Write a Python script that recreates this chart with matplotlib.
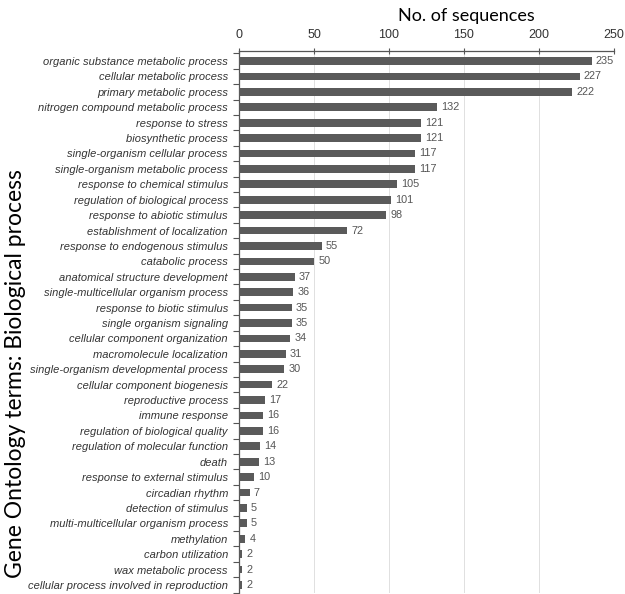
import matplotlib
matplotlib.use("Agg")
import matplotlib.pyplot as plt
import numpy as np

terms = [
    "organic substance metabolic process",
    "cellular metabolic process",
    "primary metabolic process",
    "nitrogen compound metabolic process",
    "response to stress",
    "biosynthetic process",
    "single-organism cellular process",
    "single-organism metabolic process",
    "response to chemical stimulus",
    "regulation of biological process",
    "response to abiotic stimulus",
    "establishment of localization",
    "response to endogenous stimulus",
    "catabolic process",
    "anatomical structure development",
    "single-multicellular organism process",
    "response to biotic stimulus",
    "single organism signaling",
    "cellular component organization",
    "macromolecule localization",
    "single-organism developmental process",
    "cellular component biogenesis",
    "reproductive process",
    "immune response",
    "regulation of biological quality",
    "regulation of molecular function",
    "death",
    "response to external stimulus",
    "circadian rhythm",
    "detection of stimulus",
    "multi-multicellular organism process",
    "methylation",
    "carbon utilization",
    "wax metabolic process",
    "cellular process involved in reproduction",
]
counts = [235, 227, 222, 132, 121, 121, 117, 117, 105, 101, 98, 72, 55, 50,
          37, 36, 35, 35, 34, 31, 30, 22, 17, 16, 16, 14, 13, 10, 7, 5, 5, 4,
          2, 2, 2]
xticks = [0, 50, 100, 150, 200, 250]

W, H = 625, 594
fig = plt.figure(figsize=(W / 100, H / 100), dpi=100)
ax = fig.add_axes([239 / W, 1 - 593 / H, (614 - 239) / W, (593 - 51) / H])

pos = np.arange(len(terms))
ax.barh(pos, counts, height=0.5, color="#5a5a5a", zorder=3)
for p, c in zip(pos, counts):
    ax.text(c + 3, p, str(c), va="center", ha="left", fontsize=7.8,
            color="#555555", family="Liberation Sans")

ax.set_xlim(0, 250)
ax.set_ylim(len(terms) - 1 + 0.52, -0.65)
ax.xaxis.tick_top()
ax.set_xticks(xticks)
ax.set_xticklabels([str(t) for t in xticks], family="Liberation Sans",
                   fontsize=9, color="#333333")
ax.tick_params(axis="x", direction="inout", length=5, width=0.8,
               color="#555555", pad=5)
ax.grid(axis="x", color="#e0e0e0", linewidth=0.7, zorder=0)

# category labels sit on plain text, ticks mark the gaps between bars
ax.set_yticks(pos)
ax.set_yticklabels(terms, family="Liberation Sans", style="italic",
                   fontsize=8.0, color="#333333")
ax.set_yticks(np.arange(len(terms) + 1) - 0.5, minor=True)
ax.tick_params(axis="y", which="major", length=0, pad=8)
ax.tick_params(axis="y", which="minor", length=4, width=0.8,
               color="#555555", direction="out")

for side in ("right", "bottom"):
    ax.spines[side].set_visible(False)
for side in ("top", "left"):
    ax.spines[side].set_color("#555555")
    ax.spines[side].set_linewidth(0.9)

fig.text(466 / W, 1 - 16 / H, "No. of sequences", ha="center", va="center",
         fontsize=13, family="Lato", color="black")
fig.text(16 / W, 1 - 374 / H, "Gene Ontology terms: Biological process",
         ha="center", va="center", rotation=90, fontsize=16.5,
         family="Lato", color="black")

fig.savefig("out.png", dpi=100)
